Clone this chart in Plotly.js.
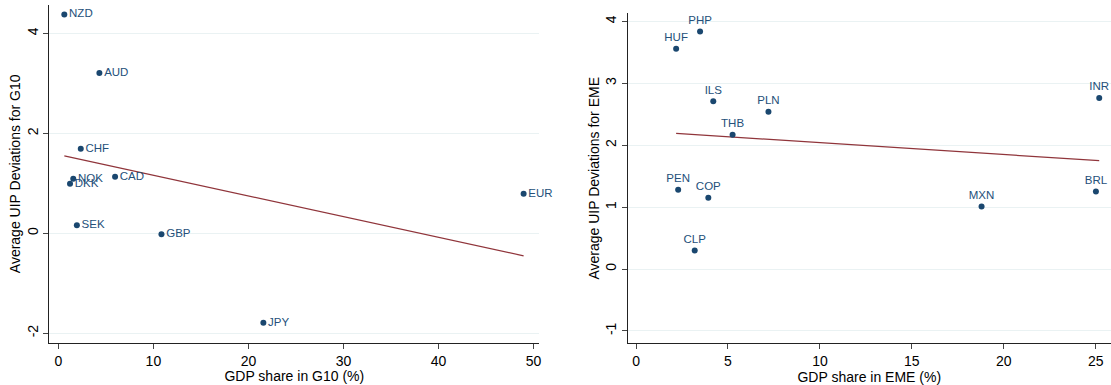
<!DOCTYPE html>
<html>
<head>
<meta charset="utf-8">
<script src="https://cdn.plot.ly/plotly-3.0.1.min.js"></script>
<style>html,body{margin:0;padding:0;background:#fff;}#chart{width:1111px;height:385px;}</style>
</head>
<body>
<div id="chart"></div>
<script>
// G10 panel
const g10Codes = ["NZD","AUD","CHF","NOK","DKK","CAD","EUR","SEK","GBP","JPY"];
const g10Share = [0.63, 4.32, 2.36, 1.57, 1.23, 5.97, 48.95, 1.95, 10.85, 21.57];
const g10UIP   = [4.38, 3.21, 1.69, 1.09, 0.99, 1.13, 0.79, 0.16, -0.02, -1.79];
const g10FitX  = [0.63, 48.95];
const g10FitY  = [1.55, -0.45];

// EME panel
const emeCodes = ["PHP","HUF","ILS","PLN","THB","INR","PEN","COP","MXN","BRL","CLP"];
const emeShare = [3.48, 2.18, 4.20, 7.20, 5.25, 25.19, 2.29, 3.93, 18.79, 25.01, 3.19];
const emeUIP   = [3.835, 3.556, 2.71, 2.54, 2.17, 2.76, 1.28, 1.15, 1.01, 1.25, 0.30];
const emeFitX  = [2.18, 25.19];
const emeFitY  = [2.19, 1.75];

const g10Ticks = [0, 10, 20, 30, 40, 50];
const g10YTicks = [-2, 0, 2, 4];
const emeTicks = [0, 5, 10, 15, 20, 25];
const emeYTicks = [-1, 0, 1, 2, 3, 4];

const navy = "#1a476f";
const maroon = "#90353b";
const font = "Liberation Sans, Arial, Helvetica, sans-serif";

const traces = [
  {x: g10FitX, y: g10FitY, type: "scatter", mode: "lines", line: {color: maroon, width: 1.3}, xaxis: "x", yaxis: "y", hoverinfo: "skip"},
  {x: g10Share, y: g10UIP, text: g10Codes, type: "scatter", mode: "markers+text", textposition: "middle right", cliponaxis: false,
   marker: {color: navy, size: 6}, textfont: {color: "#24507a", size: 11.5, family: font}, xaxis: "x", yaxis: "y"},
  {x: emeFitX, y: emeFitY, type: "scatter", mode: "lines", line: {color: maroon, width: 1.3}, xaxis: "x2", yaxis: "y2", hoverinfo: "skip"},
  {x: emeShare, y: emeUIP, text: emeCodes, type: "scatter", mode: "markers+text", textposition: "top center", cliponaxis: false,
   marker: {color: navy, size: 6}, textfont: {color: "#24507a", size: 11.5, family: font}, xaxis: "x2", yaxis: "y2"}
];

function xax(domain, range, ticks, title, anchor) {
  return {domain: domain, range: range, tickvals: ticks, ticktext: ticks.map(String), anchor: anchor,
    showline: true, linecolor: "#222", linewidth: 1, ticks: "outside", ticklen: 5, tickcolor: "#444", tickwidth: 1,
    showgrid: false, zeroline: false, automargin: false,
    tickfont: {family: font, size: 14, color: "#000"},
    title: {text: title, font: {family: font, size: 14, color: "#000"}, standoff: 0}};
}
function yax(domain, range, ticks, title, anchor) {
  return {domain: domain, range: range, tickvals: ticks, ticktext: ticks.map(String), anchor: anchor,
    showline: true, linecolor: "#222", linewidth: 1, ticks: "outside", ticklen: 5, tickcolor: "#444", tickwidth: 1,
    showgrid: true, gridcolor: "#eaf2f3", gridwidth: 1, zeroline: false, automargin: false, tickangle: -90,
    tickfont: {family: font, size: 14, color: "#000"},
    title: {text: title, font: {family: font, size: 14, color: "#000"}, standoff: 0}};
}

const layout = {
  width: 1111, height: 385,
  margin: {l: 0, r: 0, t: 0, b: 0},
  paper_bgcolor: "#fff", plot_bgcolor: "#fff",
  showlegend: false,
  xaxis: xax([49.3/1111, 539.3/1111], [-0.95, 50.6], g10Ticks, "GDP share in G10 (%)", "y"),
  yaxis: yax([1 - 342.7/385, 1 - 5/385], [-2.19, 4.57], g10YTicks, "Average UIP Deviations for G10", "x"),
  xaxis2: xax([627.6/1111, 1], [-0.46, 25.83], emeTicks, "GDP share in EME (%)", "y2"),
  yaxis2: yax([1 - 343.3/385, 1 - 13.3/385], [-1.2, 4.13], emeYTicks, "Average UIP Deviations for EME", "x2")
};

Plotly.newPlot("chart", traces, layout, {displayModeBar: false, staticPlot: true});
</script>
</body>
</html>
